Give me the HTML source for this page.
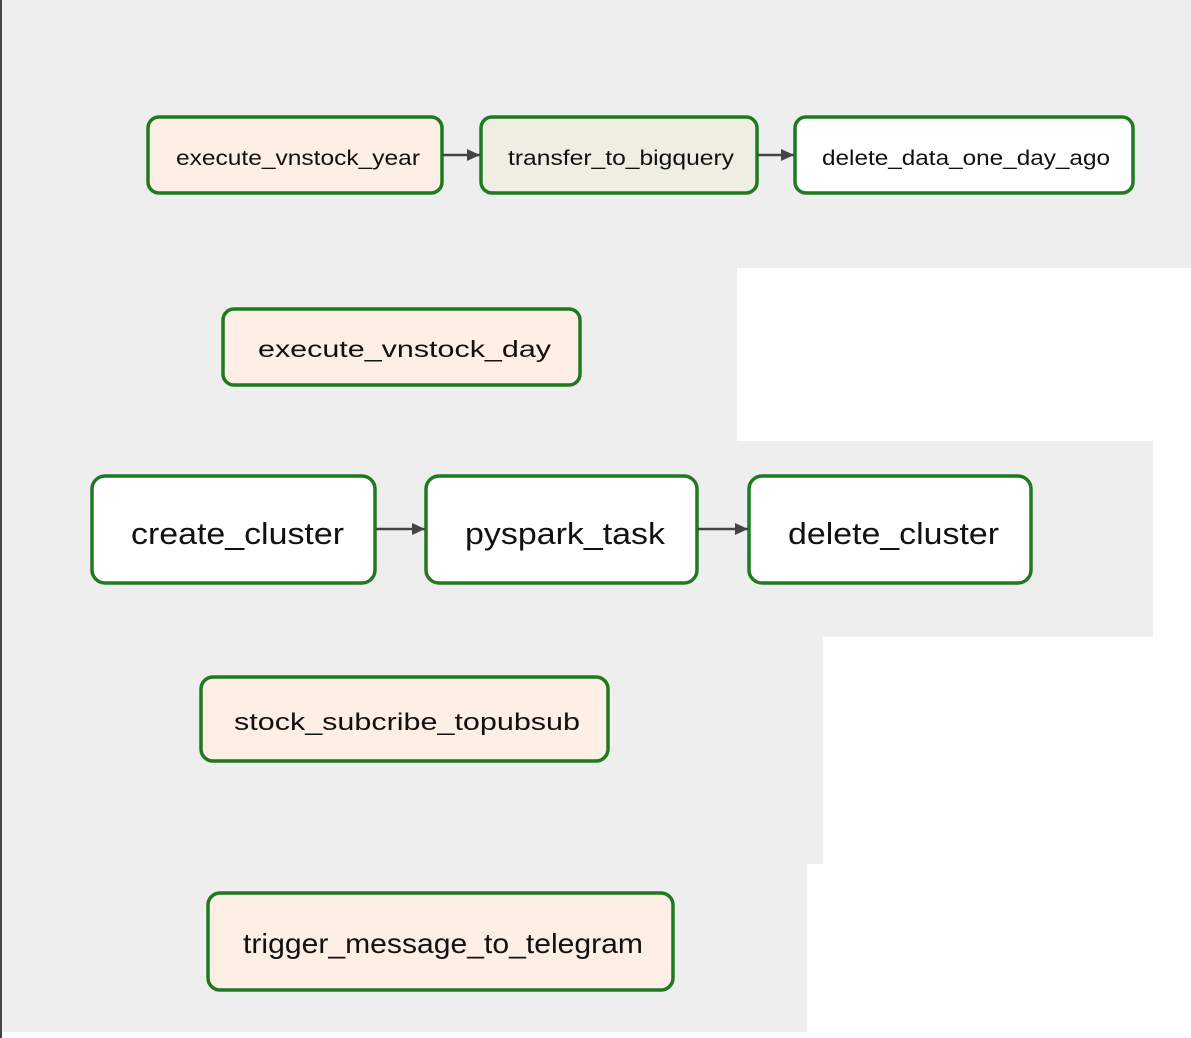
<!DOCTYPE html>
<html><head><meta charset="utf-8"><style>
html,body{margin:0;padding:0;background:#fff;}
svg{display:block;}
text{font-family:"Liberation Sans",sans-serif;fill:#111;}
</style></head><body>
<svg width="1191" height="1038" viewBox="0 0 1191 1038" xmlns="http://www.w3.org/2000/svg">
<defs><marker id="a" markerWidth="14" markerHeight="14" refX="13" refY="7" orient="auto" markerUnits="userSpaceOnUse"><path d="M0,1 L13,7 L0,13 z" fill="#444"/></marker></defs>
<rect x="0" y="0" width="1191" height="268" fill="#eeeeee"/>
<rect x="0" y="268" width="737" height="173" fill="#eeeeee"/>
<rect x="0" y="441" width="1153" height="196" fill="#eeeeee"/>
<rect x="0" y="637" width="823" height="227" fill="#eeeeee"/>
<rect x="0" y="864" width="807" height="168" fill="#eeeeee"/>
<rect x="0" y="0" width="2" height="1038" fill="#444"/>
<g stroke="#1f7a1f" stroke-width="3.5">
<rect x="148" y="117" width="294" height="76" rx="11" fill="#fdeee6"/>
<rect x="481" y="117" width="276" height="76" rx="11" fill="#eeeee2"/>
<rect x="795" y="117" width="338" height="76" rx="11" fill="#ffffff"/>
<rect x="223" y="309" width="357" height="76" rx="11" fill="#fdeee6"/>
<rect x="92" y="476" width="283" height="107" rx="13" fill="#ffffff"/>
<rect x="426" y="476" width="271" height="107" rx="13" fill="#ffffff"/>
<rect x="749" y="476" width="282" height="107" rx="13" fill="#ffffff"/>
<rect x="201" y="677" width="407" height="84" rx="12" fill="#fdeee6"/>
<rect x="208" y="893" width="465" height="97" rx="12" fill="#fdeee6"/>
</g>
<g stroke="#444" stroke-width="2.5">
<line x1="443" y1="155" x2="480" y2="155" marker-end="url(#a)"/>
<line x1="758" y1="155" x2="794" y2="155" marker-end="url(#a)"/>
<line x1="376" y1="529" x2="425" y2="529" marker-end="url(#a)"/>
<line x1="698" y1="529" x2="748" y2="529" marker-end="url(#a)"/>
</g>
<text x="176" y="165" font-size="21" textLength="244" lengthAdjust="spacingAndGlyphs">execute_vnstock_year</text>
<text x="508" y="165" font-size="21" textLength="226" lengthAdjust="spacingAndGlyphs">transfer_to_bigquery</text>
<text x="822" y="165" font-size="21" textLength="288" lengthAdjust="spacingAndGlyphs">delete_data_one_day_ago</text>
<text x="258" y="357" font-size="23" textLength="293" lengthAdjust="spacingAndGlyphs">execute_vnstock_day</text>
<text x="131" y="544" font-size="31" textLength="213" lengthAdjust="spacingAndGlyphs">create_cluster</text>
<text x="465" y="544" font-size="31" textLength="200" lengthAdjust="spacingAndGlyphs">pyspark_task</text>
<text x="788" y="544" font-size="31" textLength="211" lengthAdjust="spacingAndGlyphs">delete_cluster</text>
<text x="234" y="730" font-size="24" textLength="346" lengthAdjust="spacingAndGlyphs">stock_subcribe_topubsub</text>
<text x="243" y="953" font-size="28" textLength="400" lengthAdjust="spacingAndGlyphs">trigger_message_to_telegram</text>
</svg>
</body></html>
